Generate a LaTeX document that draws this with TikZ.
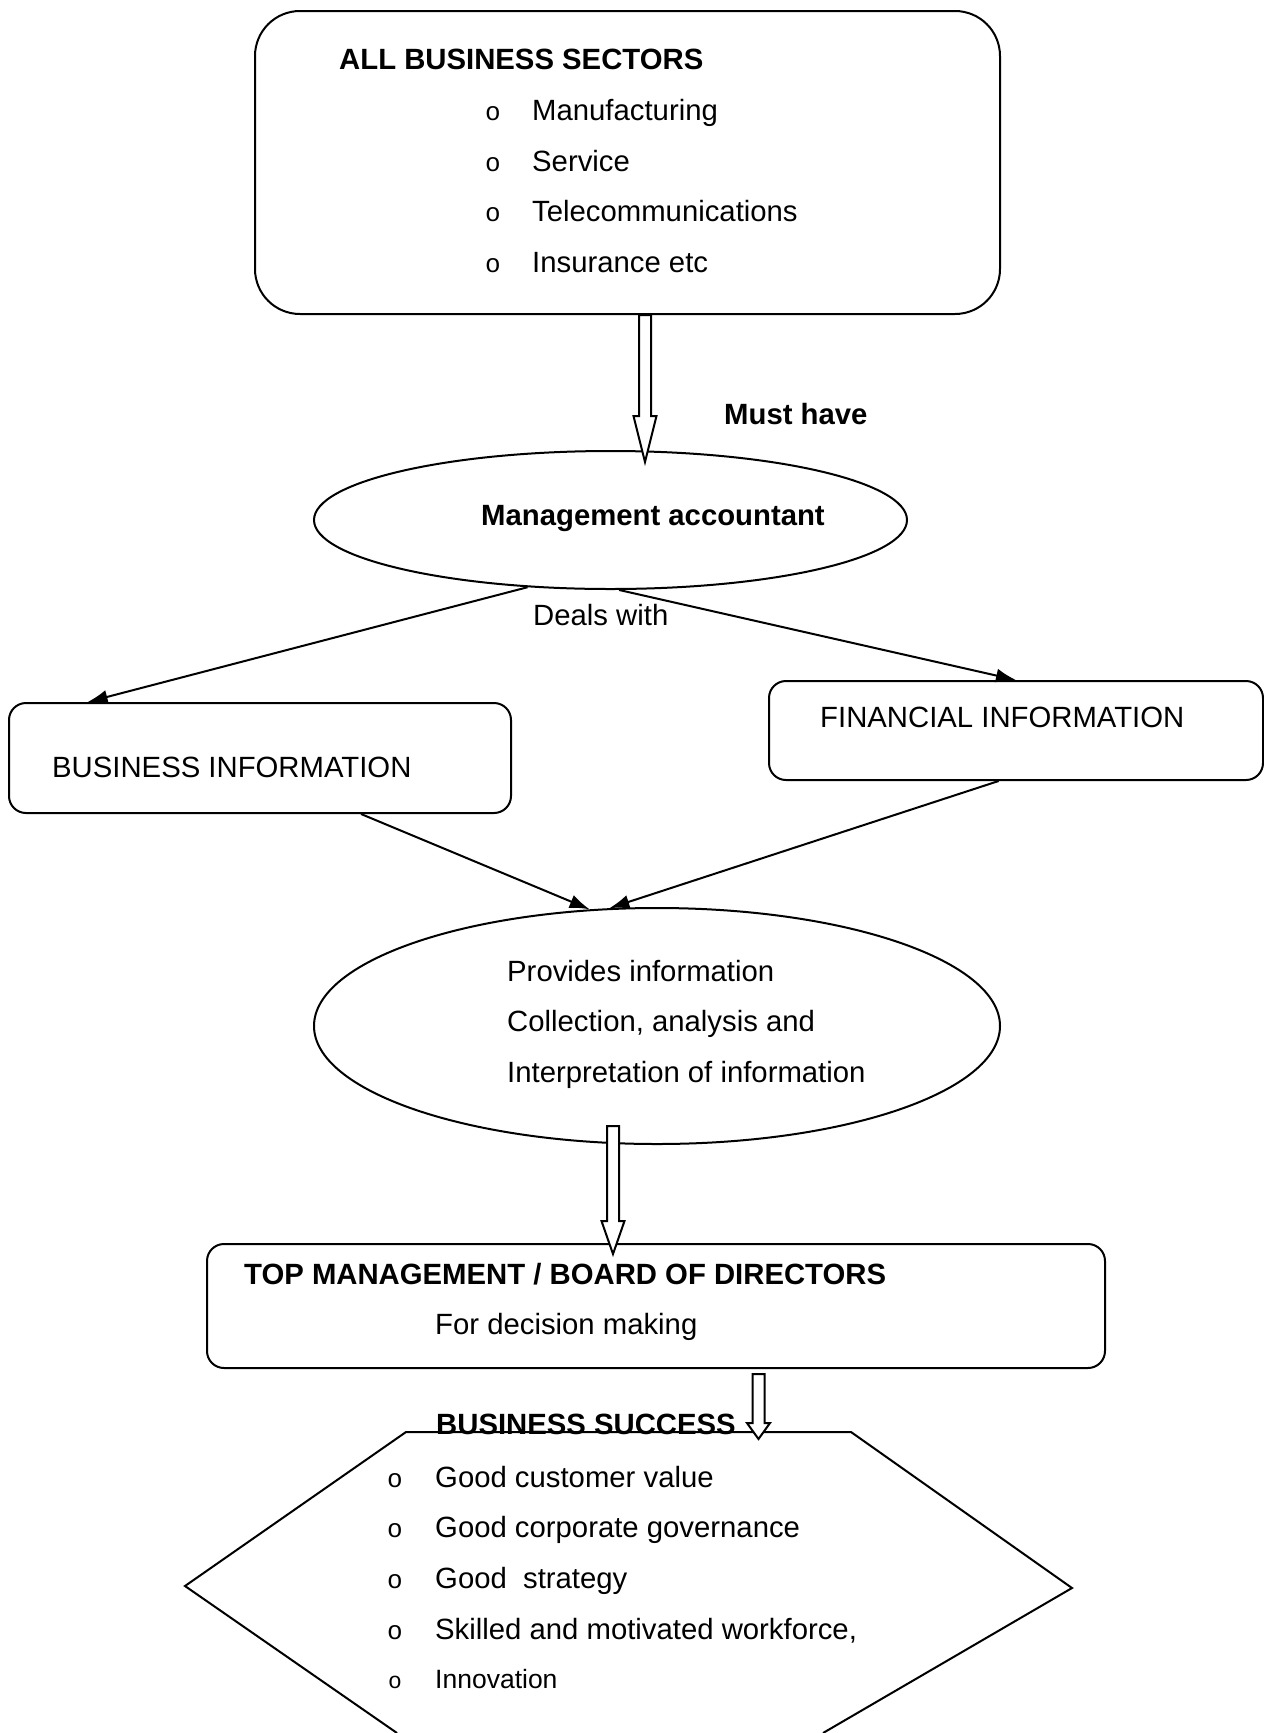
\documentclass[tikz,border=0pt]{standalone}
\usepackage{fontspec}
\setmainfont{Liberation Sans}
\setmonofont{Liberation Mono}
\usepackage{tikz}
\usetikzlibrary{shapes.geometric}
\usetikzlibrary{arrows.meta}
\usetikzlibrary{calc}

\tikzset{
  box/.style={draw, line width=2pt, inner sep=0pt, rounded corners=17pt},
  oval/.style={draw, ellipse, line width=2pt, inner sep=0pt},
  txt/.style={anchor=base west, inner sep=0pt, font=\fontsize{29.3}{35}\selectfont},
  btxt/.style={anchor=base west, inner sep=0pt, font=\fontsize{29.3}{35}\selectfont\bfseries},
  bul/.style={anchor=base west, inner sep=0pt, font=\fontsize{26}{31}\selectfont\ttfamily},
  arr/.style={line width=2pt, -{Latex[length=20pt,width=14pt]}},
  hollow/.style={draw, fill=white, line width=2pt,
    to path={let \p1=(\tikztostart), \p2=(\tikztotarget) in
      (\x1-6pt,\y1) -- (\x1-6pt,\y2+#1) -- (\x1-11.5pt,\y2+#1) -- (\x2,\y2)
      -- (\x1+11.5pt,\y2+#1) -- (\x1+6pt,\y2+#1) -- (\x1+6pt,\y1) -- cycle}},
}

\begin{document}
\begin{tikzpicture}[x=1pt,y=-1pt]
        \useasboundingbox (0,0) rectangle (1264,1733);
        \node[box, rounded corners=45pt, minimum width=745pt, minimum height=303pt] (top) at (627.5,162.5) {};
        \node[oval, minimum width=593pt, minimum height=138pt] (ma) at (610.5,520) {};
        \node[box, minimum width=502pt, minimum height=110pt] (bi) at (260,758) {};
        \node[box, minimum width=494pt, minimum height=99pt] (fi) at (1016,730.5) {};
        \node[oval, minimum width=686pt, minimum height=236pt] (pi) at (657,1026) {};
        \node[box, minimum width=898pt, minimum height=124pt] (tm) at (656,1306) {};
        % hexagon, bottom edge is off the page
        \draw[line width=2pt] (397,1733) -- (185,1586) -- (406,1432) coordinate (bs) -- (851,1432) -- (1072,1588) -- (823,1733);

        \draw[arr] (ma.219) -- (bi.162);
        \draw[arr] (ma.277) -- (fi.north);
        \draw[arr] (bi.331) -- (pi.120);
        \draw[arr] (fi.251) -- (pi.112);
        \draw[hollow=46pt] (top.south -| 645,0) to ($(ma.north -| 645,0)+(0,12)$);
        \draw[hollow=33pt] ($(pi.south -| 613,0)+(0,-19)$) to ($(tm.north -| 613,0)+(0,11)$);
        \draw[hollow=16pt] ($(tm.south -| 758.5,0)+(0,5)$) to ($(bs -| 758.5,0)+(0,7)$);

        \node[btxt] (sec) at (339,69) {ALL BUSINESS SECTORS};
        \node[bul] (o1) at (485,120) {o};
        \node[txt] (s1) at (532,120) {Manufacturing};
        \node[bul] (o2) at (485,171) {o};
        \node[txt] (s2) at (532,171) {Service};
        \node[bul] (o3) at (485,221) {o};
        \node[txt] (s3) at (532,221) {Telecommunications};
        \node[bul] (o4) at (485,272) {o};
        \node[txt] (s4) at (532,272) {Insurance etc};
        \node[btxt] (mh) at (724,424) {Must have};
        \node[btxt, anchor=base] (mat) at (653,525) {Management accountant};
        \node[txt] (dw) at (533,625) {Deals with};
        \node[txt] (bit) at (52,777) {BUSINESS INFORMATION};
        \node[txt] (fit) at (820,727) {FINANCIAL INFORMATION};
        \node[txt] (p1) at (507,981) {Provides information};
        \node[txt] (p2) at (507,1031) {Collection, analysis and};
        \node[txt] (p3) at (507,1082) {Interpretation of information};
        \node[btxt] (tmt) at (244,1284) {TOP MANAGEMENT / BOARD OF DIRECTORS};
        \node[txt] (dm) at (435,1334) {For decision making};
        \node[btxt] (bst) at (436,1434) {BUSINESS SUCCESS};
        \node[bul] (b1) at (387,1487) {o};
        \node[txt] (g1) at (435,1487) {Good customer value};
        \node[bul] (b2) at (387,1537) {o};
        \node[txt] (g2) at (435,1537) {Good corporate governance};
        \node[bul] (b3) at (387,1588) {o};
        \node[txt] (g3) at (435,1588) {Good\ \ strategy};
        \node[bul] (b4) at (387,1639) {o};
        \node[txt] (g4) at (435,1639) {Skilled and motivated workforce,};
        \node[bul, font=\fontsize{23}{28}\selectfont\ttfamily] (b5) at (388,1688) {o};
        \node[txt, font=\fontsize{26.5}{31}\selectfont] (g5) at (435,1688) {Innovation};
    \end{tikzpicture}
\end{document}
